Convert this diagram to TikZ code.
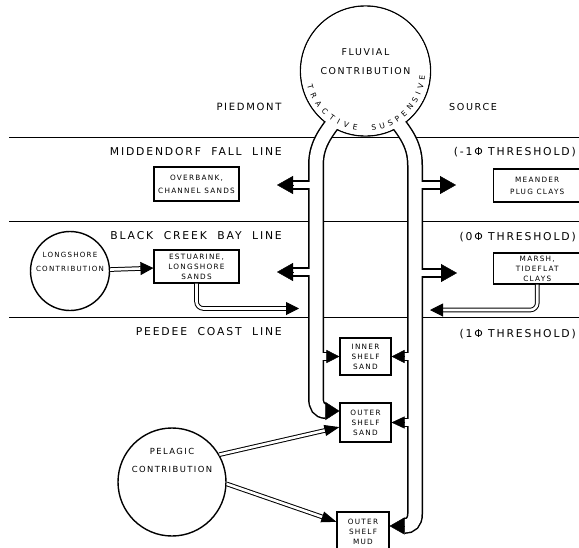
\documentclass[tikz,border=0pt]{standalone}
\usepackage{fontspec}
\setmainfont{DejaVu Sans}[LetterSpace=17]
\usetikzlibrary{arrows.meta,calc,decorations.text}

\tikzset{
  zoneline/.style={line width=1pt},
  tubeout/.style={line width=16pt},
  tubein/.style={line width=13pt, white},
  branchout/.style={line width=9.5pt},
  branchin/.style={line width=6.5pt, white},
  unit/.style={draw, fill=white, line width=1.1pt, align=center, inner sep=0pt, font=\fontsize{7.3}{10}\selectfont},
  source/.style={draw, fill=white, circle, line width=1.4pt, inner sep=0pt},
  zonelabel/.style={inner sep=0pt, anchor=base east, font=\fontsize{10.8}{13}\selectfont},
  head/.style 2 args={-{Triangle[length=#1,width=#2]}, line width=0.4pt},
  dbl/.style={double, double distance=2.6pt, line width=1pt, -{Triangle[length=13pt,width=13pt]}},
}

% tractive (left) and suspensive (right) channels
\newcommand{\channels}{(tl0) .. controls +(-15,20) and +(0,-23) .. (tl1) -- (tl2) .. controls +(0,8) and +(-7,0) .. (tl3)
  (tr0) .. controls +(15,20) and +(0,-23) .. (tr1) -- (tr2) .. controls +(0,8) and +(7,0) .. (tr3)}
\newcommand{\spurs}{(tl1|-bl1) -- (bl1) (tl1|-bl2) -- (bl2) (tl1|-bl3) -- (bl3)
  (tr1|-br1) -- (br1) (tr1|-br2) -- (br2) (tr1|-br3) -- (br3) (tr1|-br4) -- (br4)}

\begin{document}
\begin{tikzpicture}[x=1pt,y=-1pt]
\useasboundingbox[fill=white] (0,0) rectangle (579,547);

\foreach \y in {137,221,317}
  \draw[zoneline] (9,\y) -- (579,\y);

\node[zonelabel] (fall) at (282,155) {MIDDENDORF~~FALL~~LINE};
\node[zonelabel] (fallphi) at (576,155) {(-1Φ THRESHOLD)};
\node[zonelabel] (bay) at (282,239) {BLACK~~CREEK~~BAY~~LINE};
\node[zonelabel] (bayphi) at (576,240) {(0Φ THRESHOLD)};
\node[zonelabel] (coast) at (282,335) {PEEDEE~~COAST~~LINE};
\node[zonelabel] (coastphi) at (576,337) {(1Φ THRESHOLD)};

\node[inner sep=0pt, anchor=base, font=\fontsize{10}{12}\selectfont] (piedmont) at (249,110.5) {PIEDMONT};
\node[inner sep=0pt, anchor=base, font=\fontsize{9.6}{12}\selectfont] (sourcelbl) at (473,110.5) {SOURCE};

% sources
\node[source, minimum size=130pt] (fluvial) at (365.5,71) {};
\node[source, minimum size=79pt] (longshore) at (70,271) {};
\node[source, minimum size=108pt] (pelagic) at (172,482) {};

% depositional units
\node[unit, minimum width=85pt, minimum height=34pt, font=\fontsize{7.3}{13}\selectfont] (overbank) at (196.5,184) {OVERBANK,\\CHANNEL SANDS};
\node[unit, minimum width=87.5pt, minimum height=33pt, font=\fontsize{7.3}{12}\selectfont] (meander) at (537.25,185.5) {MEANDER\\PLUG CLAYS};
\node[unit, minimum width=85pt, minimum height=33pt] (estuarine) at (196.5,266.5) {ESTUARINE,\\LONGSHORE\\SANDS};
\node[unit, minimum width=87.5pt, minimum height=31pt] (marsh) at (537.25,268.5) {MARSH,\\TIDEFLAT\\CLAYS};
\node[unit, minimum width=51pt, minimum height=37pt] (inner) at (365.5,356.5) {INNER\\SHELF\\SAND};
\node[unit, minimum width=51pt, minimum height=39pt] (outersand) at (365.5,422.5) {OUTER\\SHELF\\SAND};
\node[unit, minimum width=52pt, minimum height=39pt] (mud) at (363,531.5) {OUTER\\SHELF\\MUD};

% channel points
\coordinate (tl0) at (343,110);
\coordinate (tl1) at (316,165);
\coordinate (tl2) at (316,398);
\coordinate (tl3) at (326,411);
\coordinate (tr0) at (388,110);
\coordinate (tr1) at (415,165);
\coordinate (tr2) at (415,514);
\coordinate (tr3) at (404,526);
\coordinate (bl1) at (293,185);
\coordinate (al1) at (277,185);
\coordinate (bl2) at (293,272);
\coordinate (al2) at (277,272);
\coordinate (bl3) at (327,356.5);
\coordinate (br1) at (440,185);
\coordinate (ar1) at (456,185);
\coordinate (br2) at (441,273);
\coordinate (ar2) at (457,273);
\coordinate (br3) at (404,356.5);
\coordinate (br4) at (404,422.5);

% walls first, then hollow them out
\draw[tubeout] \channels;
\draw[branchout] \spurs;
\fill[white] (fluvial.center) circle[radius=64.3pt];
\draw[tubein] \channels;
\draw[branchin] \spurs;

\draw[head={16pt}{18pt}] (bl1) -- (al1);
\draw[head={16pt}{18pt}] (bl2) -- (al2);
\draw[head={16pt}{18pt}] (br1) -- (ar1);
\draw[head={16pt}{18pt}] (br2) -- (ar2);
\draw[head={13pt}{13pt}] (bl3) -- (inner.west);
\draw[head={13pt}{13pt}] (br3) -- (inner.east);
\draw[head={13pt}{12pt}] (br4) -- (outersand.east);
\draw[head={14pt}{18pt}] (tl3) -- (outersand.west |- tl3);
\draw[head={15pt}{17pt}] (tr3) -- (mud.east |- tr3);

\node[align=center, font=\fontsize{9.4}{19}\selectfont] (fluvialtext) at (365.5,61.5) {FLUVIAL\\CONTRIBUTION};
\node[align=center, font=\fontsize{7.1}{14}\selectfont] (longshoretext) at (70,262) {LONGSHORE\\CONTRIBUTION};
\node[align=center, font=\fontsize{8.4}{18}\selectfont] (pelagictext) at (172,460) {PELAGIC\\CONTRIBUTION};

\path[decorate, decoration={text along path, text={|\fontsize{7.5}{9}\selectfont|TRACTIVE}, text align={fit to path}}]
  ($(fluvial.center)+(166:60)$) arc[start angle=166, end angle=98, radius=60];
\path[decorate, decoration={text along path, text={|\fontsize{7.5}{9}\selectfont|SUSPENSIVE}, text align={fit to path}}]
  ($(fluvial.center)+(84:60)$) arc[start angle=84, end angle=5, radius=60];

% transfers between sources and units
\coordinate (lt) at (299,308.5);
\coordinate (rt) at (430,310);
\draw[dbl] (longshore) -- (estuarine);
\draw[dbl, rounded corners=7pt] (estuarine.south) |- (lt);
\draw[dbl, rounded corners=7pt] (marsh.south) |- (rt);
\draw[dbl, -{Triangle[length=15pt,width=11pt]}] (pelagic.30) -- (outersand.190);
\draw[dbl, -{Triangle[length=15pt,width=11pt]}] (pelagic.-2) -- (mud.160);
\end{tikzpicture}
\end{document}
